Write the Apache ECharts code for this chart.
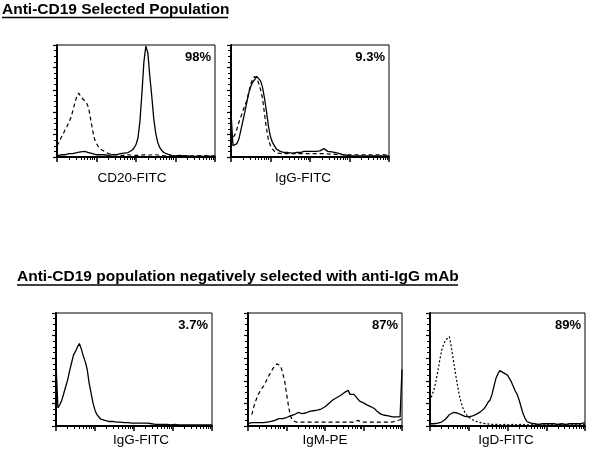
<!DOCTYPE html>
<html><head><meta charset="utf-8">
<script src="https://cdn.jsdelivr.net/npm/echarts@6/dist/echarts.min.js"></script>
<style>html,body{margin:0;padding:0;background:#fff}#c{width:592px;height:455px}</style>
</head><body><div id="c"></div>
<script>
// log10 fluorescence channel (decades 0..4)
const channels = [0,0.05,0.1,0.15,0.2,0.25,0.3,0.35,0.4,0.45,0.5,0.55,0.6,0.65,0.7,0.75,0.8,0.85,0.9,0.95,
 1,1.05,1.1,1.15,1.2,1.25,1.3,1.35,1.4,1.45,1.5,1.55,1.6,1.65,1.7,1.75,1.8,1.85,1.9,1.95,
 2,2.05,2.1,2.15,2.2,2.25,2.3,2.35,2.4,2.45,2.5,2.55,2.6,2.65,2.7,2.75,2.8,2.85,2.9,2.95,
 3,3.05,3.1,3.15,3.2,3.25,3.3,3.35,3.4,3.45,3.5,3.55,3.6,3.65,3.7,3.75,3.8,3.85,3.9,3.95,4];

const titleTop = "Anti-CD19 Selected Population";
const titleBottom = "Anti-CD19 population negatively selected with anti-IgG mAb";
const axisNames = ["CD20-FITC", "IgG-FITC", "IgG-FITC", "IgM-PE", "IgD-FITC"];
const percents = ["98%", "9.3%", "3.7%", "87%", "89%"];

const cd20Stained = [1,1.5,2,2,2,2.5,3,3,3,3.5, 4,4,4.5,4,5,4,4,3,3,2.5, 2,2,2,1.5,2,2,1.5,2,2,2,
 2,2.5,3,3,3.5,3.5,4,5,6,8, 11,17,32,57,85,99,93,72,54,34, 21,13,8.5,6,4,3,2.5,2,1.5,1,
 1,1.5,1.5,1,1,1,1,1,0.5,1, 0.5,0.5,1,0.5,0.5,0.5,1,0.5,0.5,0.5, 0.5];
const cd20Control = [10,13,17,20,24,27,31,35,41,48, 54,57,54,52,50,48,44,34,24,16, 12,9,7,6,5,4,3,3,2.5,2,
 2,2,1.5,2,1.5,1.5,2,1.5,1.5,1.5, 1.5,1,1.5,1.5,2,1.5,1.5,2,2,1.5, 2,2,1.5,1.5,1,1.5,1,1,1,1,
 1,1,1,1,1,1,1,1,1,1, 1,1,1,1,1,1,1,1,1,1, 1];
const iggSelStained = [40,10,9,12,16,24,32,40,49,57, 63,67,69,72,71,68,62,52,40,27, 18,13,10,7,6,5,5,4,4,4,
 4,3.5,4,4,4.5,4,4.5,5,5,5, 5,5,5,5,5,5.5,6,7.5,6,5, 5,4.5,4,4,3.5,3,2.5,2,2,1.5,
 1.5,1,1,1,1,1,1,1,1,1, 1,1,1,1,1,1,1,1,1,1, 1];
const iggSelControl = [12,17,20,25,31,36,41,46,50,58, 65,70,72,70,66,60,52,38,25,15, 10,7,5,4,3.5,3,3,3,3,3,
 3,3,3,3,3,3,3,3,3,3, 3,3,3,3,3,3,3,3,3,2.5, 2.5,2.5,2.5,2.5,2,2,2,2,2,2,
 2,2,2,2,2,2,2,2,2,2, 2,2,2,2,2,2,2,2,2,2, 2];
const iggNegStained = [55,16,19,23,29,35,41,49,56,63, 66,70,73,68,62,57,50,38,29,20, 14,10,8,6,5.5,5,4.5,4,4,4,
 3.5,3.5,3,3.5,3,3,3,3,3,2.5, 3,2.5,2.5,2.5,3,2.5,2,2.5,2,2, 2,1.5,2,1.5,1.5,1.5,1.5,1.5,1.5,1,
 1,1.5,1,1,1,1,1,1,1,1, 1,1,1,1,1,1,1,1,1,1, 1];
const igmControl = [null,null,10,17,22,27,30,33,35,38, 42,45,48,51,53,55,56,53,47,40, 29,18,9,5,4,3.5,3.5,3.5,3.5,3.5,
 3.5,3.5,3.5,3.5,3.5,3.5,3.5,3.5,3.5,3.5, 3.5,3.5,3.5,3.5,3.5,3.5,3.5,3.5,3.5,3.5, 3.5,3.5,3.5,3.5,3.5,3.5,4,5,4,3.5,
 3.5,3.5,3.5,3.5,3.5,3.5,3.5,3.5,3.5,3.5, 3.5,3.5,3.5,3.5,3.5,3.5,4,4.5,5,5.5, 7];
const igmStained = [2,2.5,3,3,3,3,3,3.5,3,3.5, 3.5,3.5,4,4.5,5,6,6.5,7,6.5,7, 7.5,8,9,9.5,10,11,12,12,11,11,
 11.5,12.5,13,12.5,13.5,13,14,14,15,16, 17,18.5,20,21.5,23,24.5,25,26,27,28, 29.5,30,31.5,28,26.5,28,26,24,22,21,
 20.5,19.5,18.5,18,17,16,15,13,11.5,10.5, 10,9.5,9.5,9,8.5,8,8,8,8,8, 50];
const igdControl = [22,27,32,39,48,58,67,72,76,77, 79,70,59,48,38,28,21,16,12,9.5, 8,6.5,5.5,4.5,4,3.5,3,2.5,2,2,
 1.5,1.5,1.5,1.5,1,1.5,1.5,1,1,1.5, 1.5,1,1,1.5,1,1,1,1.5,1,1, 1,1,1,1,1,1,1,1,1,1,
 1,1,1,1,1.5,1,1,1.5,1,1, 1.5,1,1.5,1,1.5,1,1.5,1,1.5,1, 1.5];
const igdStained = [2,2,2,2.5,2.5,3,3.5,4.5,6,8, 10,11,12,10.5,11.5,10.5,10,9,8.5,8, 8,8.5,9,9.5,10.5,11.5,12.5,14,15.5,18,
 21,23,28,35,42,46,49,48,47,45.5, 45,42,39,35,31,28,23,17,11,7, 4,3,2.5,2,2,2,1.5,2,2,1.5,
 2,2,2,2.5,2,2,1.5,2,2,2, 1.5,2,2,2.5,2,2,2,2.5,2,2.5, 3];

[cd20Stained,cd20Control,iggSelStained,iggSelControl,iggNegStained,igmControl,igmStained,igdControl,igdStained].forEach((a,i)=>{
  if (a.length !== channels.length) throw new Error('array ' + i + ' length ' + a.length);
});

const panels = [
  {left:57, top:45, width:158, height:112, series:[[cd20Control,'dashed'],[cd20Stained,'solid']]},
  {left:231, top:45, width:158, height:112, series:[[iggSelControl,'dashed'],[iggSelStained,'solid']]},
  {left:56, top:313, width:156, height:113, series:[[iggNegStained,'solid']]},
  {left:248, top:313, width:154, height:113, series:[[igmControl,'dashed'],[igmStained,'solid']]},
  {left:430, top:313, width:155, height:113, series:[[igdControl,'dotted'],[igdStained,'solid']]}
];
const labelPos = [[132,178.5],[303,178.5],[141,440],[325,440],[506,440]];

const minorTicks = [];
const majorTicks = [0,1,2,3,4];
for (let d = 0; d < 4; d++) for (let k = 2; k <= 9; k++) minorTicks.push(d + Math.log10(k));

const FONT = "'Liberation Sans', Arial, sans-serif";
const grid = [], xAxis = [], yAxis = [], series = [], graphic = [];
panels.forEach((p, i) => {
  grid.push({left:p.left, top:p.top, width:p.width, height:p.height, show:true, borderColor:'#000', borderWidth:1, backgroundColor:'transparent'});
  xAxis.push({type:'value', gridIndex:i, min:0, max:4, position:'bottom',
    axisLine:{lineStyle:{color:'#000', width:2}},
    axisTick:{show:true, inside:false, length:3, customValues:minorTicks, lineStyle:{color:'#000', width:1}},
    axisLabel:{show:false}, splitLine:{show:false}});
  xAxis.push({type:'value', gridIndex:i, min:0, max:4, position:'bottom',
    axisLine:{show:false},
    axisTick:{show:true, inside:false, length:5, customValues:majorTicks, lineStyle:{color:'#000', width:1.5}},
    axisLabel:{show:false}, splitLine:{show:false}});
  yAxis.push({type:'value', gridIndex:i, min:0, max:100, interval:20,
    axisLine:{show:true, lineStyle:{color:'#000', width:2}},
    axisTick:{show:true, inside:false, length:4, lineStyle:{color:'#000', width:1.2}},
    minorTick:{show:true, splitNumber:4, length:3, lineStyle:{color:'#000', width:1}},
    axisLabel:{show:false}, splitLine:{show:false}});
  p.series.forEach(([vals, style]) => {
    series.push({type:'line', xAxisIndex:i*2, yAxisIndex:i, showSymbol:false, symbol:'none', silent:true,
      data: channels.map((c, j) => [c, vals[j]]),
      lineStyle:{color:'#000', width: style==='solid'?1.3:1.2,
        type: style==='solid' ? 'solid' : (style==='dashed' ? [4,3] : [2,2])}});
  });
  graphic.push({type:'text', x:p.left + p.width - 4, y:p.top + 12, style:{text:percents[i], font:'bold 13px ' + FONT, fill:'#000', align:'right', verticalAlign:'middle'}});
  graphic.push({type:'text', x:labelPos[i][0], y:labelPos[i][1], style:{text:axisNames[i], font:'13.5px ' + FONT, fill:'#000', align:'center', verticalAlign:'middle'}});
});
graphic.push({type:'text', x:2, y:10, style:{text:titleTop, font:'bold 15.5px ' + FONT, fill:'#000', align:'left', verticalAlign:'middle'}});
graphic.push({type:'line', shape:{x1:2, y1:17.5, x2:228, y2:17.5}, style:{stroke:'#000', lineWidth:1.5}});
graphic.push({type:'text', x:17, y:277, style:{text:titleBottom, font:'bold 15.5px ' + FONT, fill:'#000', align:'left', verticalAlign:'middle'}});
graphic.push({type:'line', shape:{x1:17, y1:285, x2:458, y2:285}, style:{stroke:'#000', lineWidth:1.5}});

const chart = echarts.init(document.getElementById('c'), null, {renderer:'canvas'});
chart.setOption({animation:false, backgroundColor:'#fff', grid, xAxis, yAxis, series, graphic});
</script></body></html>
